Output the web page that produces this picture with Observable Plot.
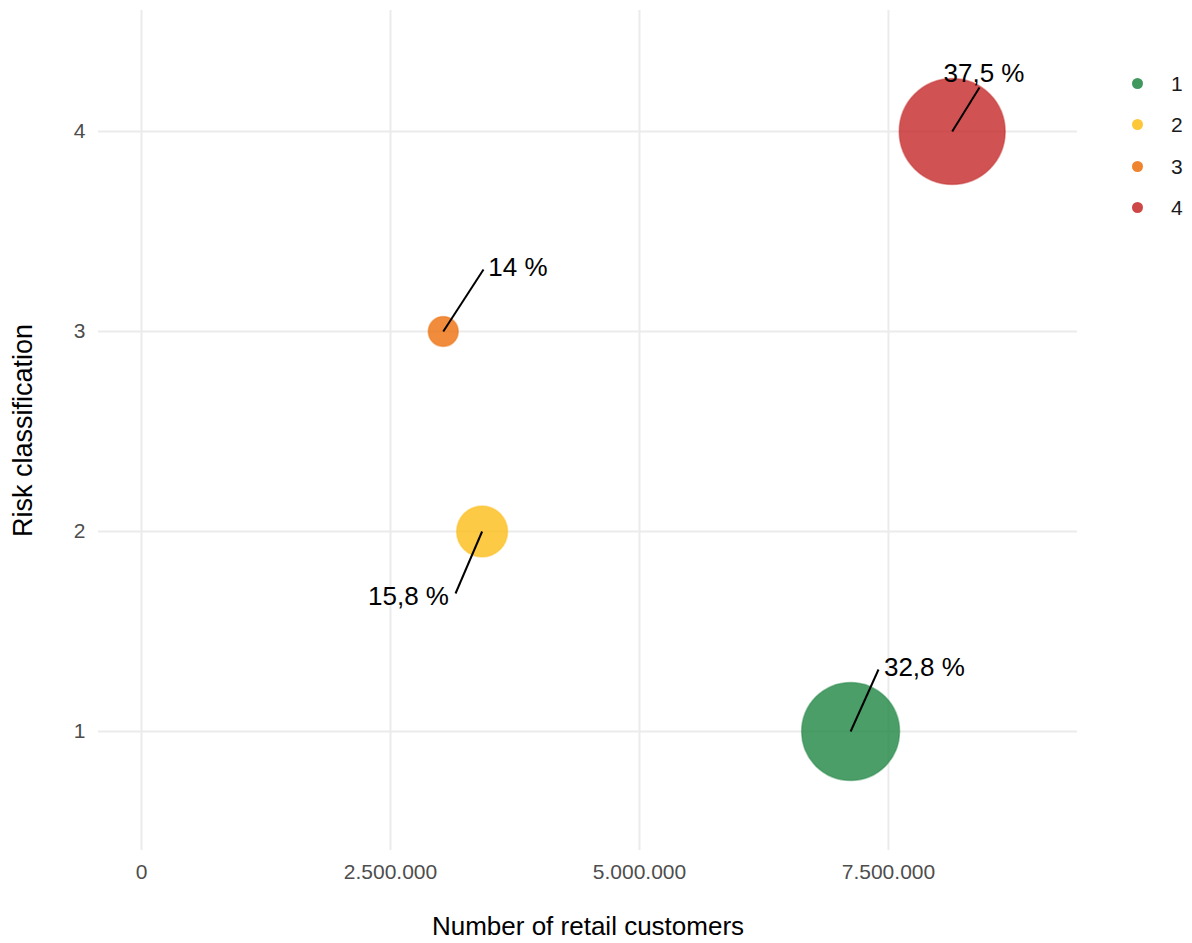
<!DOCTYPE html>
<html><head><meta charset="utf-8">
<script src="https://cdn.jsdelivr.net/npm/d3@7"></script>
<script src="https://cdn.jsdelivr.net/npm/@observablehq/plot@0.6"></script>
<style>
body{margin:0;background:#fff;font-family:"Liberation Sans",Arial,sans-serif;}
#wrap{position:relative;width:1192px;height:943px;}
#legend{position:absolute;left:1132px;top:63px;}
.row{display:flex;align-items:center;height:41.3px;}
.sw{width:11px;height:11px;border-radius:50%;}
.lab{margin-left:28px;font-size:21px;color:#1a1a1a;line-height:1;}
</style></head><body><div id="wrap"></div>
<script>
// Data
const riskClasses = [1, 2, 3, 4];
const customers = [7120000, 3420000, 3030000, 8140000];
const shares = [32.8, 15.8, 14, 37.5];
// label (repel) positions in data units
const labelX = [7861000, 2681000, 3780000, 8459000];
const labelY = [1.3175, 1.675, 3.3175, 4.29];
const segX = [7400000, 3153000, 3434000, 8414000];
const segY = [1.31, 1.69, 3.31, 4.22];
const xTicks = [0, 2500000, 5000000, 7500000];
const yTicks = [1, 2, 3, 4];
const colors = ["#1f8642", "#fdbd18", "#ec6f0b", "#c42727"];

const locale = d3.formatLocale({decimal: ",", thousands: ".", grouping: [3], currency: ["", ""]});
const fmtInt = locale.format(",d");
const fmtPct = v => locale.format(",")(v) + " %";
const minC = d3.min(customers);

const data = riskClasses.map((r, i) => ({
  risk: r, customers: customers[i], share: shares[i],
  lx: labelX[i], ly: labelY[i], sx: segX[i], sy: segY[i]
}));

const chart = Plot.plot({
  width: 1192, height: 943,
  marginLeft: 98, marginRight: 115, marginTop: 10, marginBottom: 93,
  style: {fontFamily: "'Liberation Sans', Arial, sans-serif", background: "#fff", overflow: "visible"},
  x: {domain: [-431700, 9398000]},
  y: {domain: [0.405, 4.605]},
  r: {type: "sqrt", domain: [0, d3.max(customers) - minC], range: [15, 53]},
  color: {type: "ordinal", domain: riskClasses, range: colors},
  marks: [
    Plot.gridX(xTicks, {stroke: "#ebebeb", strokeOpacity: 1, strokeWidth: 2}),
    Plot.gridY(yTicks, {stroke: "#ebebeb", strokeOpacity: 1, strokeWidth: 2}),
    Plot.axisX(xTicks, {tickSize: 0, tickPadding: 14, fontSize: 21, fill: "#4d4d4d", tickFormat: fmtInt, label: null}),
    Plot.axisY(yTicks, {tickSize: 0, tickPadding: 13, fontSize: 21, fill: "#4d4d4d", tickFormat: d3.format("d"), label: null}),
    Plot.text(["Number of retail customers"], {frameAnchor: "bottom", dy: 76.5, fontSize: 26, fill: "#000", lineAnchor: "middle", textAnchor: "middle"}),
    Plot.text(["Risk classification"], {frameAnchor: "left", rotate: -90, dx: -75.5, fontSize: 27, fill: "#000", lineAnchor: "middle", textAnchor: "middle"}),
    Plot.dot(data, {x: "customers", y: "risk", r: d => d.customers - minC, fill: "risk", fillOpacity: 0.8, stroke: "risk", strokeOpacity: 0.45, strokeWidth: 1.5, sort: null}),
    Plot.link(data, {x1: "customers", y1: "risk", x2: "sx", y2: "sy", stroke: "#000", strokeWidth: 2}),
    Plot.text(data, {x: "lx", y: "ly", text: d => fmtPct(d.share), fontSize: 26, fill: "#000", lineAnchor: "middle"})
  ]
});

const wrap = document.getElementById("wrap");
wrap.appendChild(chart);

const legend = document.createElement("div");
legend.id = "legend";
riskClasses.forEach((r, i) => {
  const row = document.createElement("div");
  row.className = "row";
  const sw = document.createElement("div");
  sw.className = "sw";
  sw.style.background = colors[i];
  sw.style.opacity = 0.85;
  const lab = document.createElement("div");
  lab.className = "lab";
  lab.textContent = String(r);
  row.appendChild(sw); row.appendChild(lab);
  legend.appendChild(row);
});
wrap.appendChild(legend);
</script>
</body></html>
